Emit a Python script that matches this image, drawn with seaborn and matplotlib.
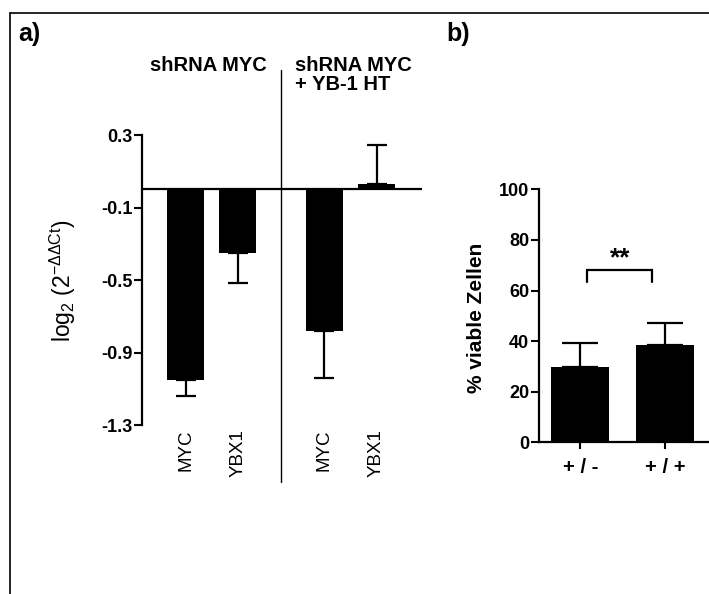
import matplotlib
matplotlib.use("Agg")
import matplotlib.pyplot as plt
from matplotlib.lines import Line2D
import seaborn as sns
import pandas as pd
import numpy as np

# ---------------- data ----------------
genes_a = ["MYC", "YBX1", "MYC", "YBX1"]
groups_a = ["shRNA MYC", "shRNA MYC", "shRNA MYC\n+ YB-1 HT", "shRNA MYC\n+ YB-1 HT"]
values_a = [-1.053, -0.348, -0.783, 0.029]
errors_a = [0.088, 0.170, 0.257, 0.216]
yticks_a = [0.3, -0.1, -0.5, -0.9, -1.3]

cats_b = ["+ / -", "+ / +"]
values_b = [29.9, 38.5]
errors_b = [9.5, 8.8]
yticks_b = [0, 20, 40, 60, 80, 100]
signif_b = "**"

# ---------------- style ----------------
sns.set_theme(style="ticks")
plt.rcParams["font.family"] = ["Liberation Sans", "DejaVu Sans"]
plt.rcParams["mathtext.fontset"] = "custom"
plt.rcParams["mathtext.rm"] = "Liberation Sans"
plt.rcParams["mathtext.it"] = "Liberation Sans:italic"
plt.rcParams["mathtext.bf"] = "Liberation Sans:bold"
for k in ["text.color", "axes.labelcolor", "xtick.color", "ytick.color", "axes.edgecolor"]:
    plt.rcParams[k] = "black"

W, H = 709, 594
fig = plt.figure(figsize=(W / 100, H / 100), dpi=100)


def fx(px):
    return px / W


def fy(py):
    return 1 - py / H


# frame lines (top and left)
fig.add_artist(Line2D([fx(10.3), 1.0], [fy(13.3), fy(13.3)], transform=fig.transFigure,
                      color="black", lw=1.2))
fig.add_artist(Line2D([fx(10.3), fx(10.3)], [fy(13.3), 0.0], transform=fig.transFigure,
                      color="black", lw=1.2))

# ---------------- panel a ----------------
ax = fig.add_axes([fx(142), fy(425.3), fx(421.7) - fx(142), fy(135) - fy(425.3)])
group_gap = 0.664
grp_idx = pd.factorize(pd.Series(groups_a))[0]
pos_a = np.arange(len(genes_a)) + group_gap * grp_idx
df_a = pd.DataFrame({"pos": pos_a, "val": values_a, "gene": genes_a})
sns.barplot(data=df_a, x="pos", y="val", native_scale=True, color="black", saturation=1,
            width=0.71, errorbar=None, linewidth=0, ax=ax)
lo = [e if v < 0 else 0 for v, e in zip(values_a, errors_a)]
hi = [e if v >= 0 else 0 for v, e in zip(values_a, errors_a)]
ax.errorbar(pos_a, values_a, yerr=[lo, hi], fmt="none", ecolor="black",
            elinewidth=1.6, capsize=7.2, capthick=1.6, zorder=3)
ax.axhline(0, color="black", lw=1.6, zorder=4)
ax.set_xlim(-0.839, 4.53)
ax.set_ylim(-1.3, 0.3)
ax.set_yticks(yticks_a, [f"{t:.1f}" for t in yticks_a], fontweight="bold", fontsize=13)
ax.set_xticks(pos_a, genes_a, rotation=90, fontsize=13.5, va="top", ha="center")
ax.tick_params(axis="x", length=0, pad=3)
ax.tick_params(axis="y", length=6, width=1.5, pad=1, colors="black")
for s in ["top", "right", "bottom"]:
    ax.spines[s].set_visible(False)
ax.spines["left"].set_linewidth(1.6)
ax.spines["left"].set_color("black")
ax.set_xlabel("")
ax.set_ylabel(r"log$_\mathregular{2}$ (2$^\mathregular{-ΔΔCt}$)", fontsize=16.5,
              rotation=90, va="center", ha="center", color="black")
ax.yaxis.set_label_coords(-0.282, 0.497)
ax.grid(False)
ax.patch.set_alpha(0)

# divider between groups
mid = (pos_a[1] + pos_a[2]) / 2
ax.axvline(mid, ymin=-0.194, ymax=1.224, color="black", lw=1.0, clip_on=False)

# group headers
ax.text(mid - 0.27, 1.219, groups_a[0], transform=ax.get_xaxis_transform(),
        ha="right", va="baseline", fontsize=14.5, fontweight="bold")
hdr2 = groups_a[2].split("\n")
ax.text(mid + 0.26, 1.219, hdr2[0], transform=ax.get_xaxis_transform(),
        ha="left", va="baseline", fontsize=14.5, fontweight="bold")
ax.text(mid + 0.26, 1.154, hdr2[1], transform=ax.get_xaxis_transform(),
        ha="left", va="baseline", fontsize=14.5, fontweight="bold")

# ---------------- panel b ----------------
bx = fig.add_axes([fx(539), fy(442.3), fx(708) - fx(539), fy(189.3) - fy(442.3)])
df_b = pd.DataFrame({"cat": cats_b, "val": values_b})
sns.barplot(data=df_b, x="cat", y="val", color="black", saturation=1, width=0.69,
            errorbar=None, linewidth=0, ax=bx)
bx.errorbar(range(len(cats_b)), values_b, yerr=[[0] * len(errors_b), errors_b], fmt="none",
            ecolor="black", elinewidth=1.6, capsize=13, capthick=1.6, zorder=3)
bx.set_xlim(-0.489, 1.511)
bx.set_ylim(0, 100)
bx.set_yticks(yticks_b, [str(t) for t in yticks_b], fontweight="bold", fontsize=13)
bx.set_xticks(range(len(cats_b)), cats_b, fontweight="bold", fontsize=14.5)
bx.tick_params(axis="y", length=6, width=1.5, pad=1, colors="black")
bx.tick_params(axis="x", length=5, width=1.5, pad=6, colors="black")
for s in ["top", "right"]:
    bx.spines[s].set_visible(False)
for s in ["left", "bottom"]:
    bx.spines[s].set_linewidth(1.6)
    bx.spines[s].set_color("black")
bx.set_xlabel("")
bx.set_ylabel("% viable Zellen", fontsize=15, fontweight="bold", rotation=90,
              va="center", ha="center", color="black")
bx.yaxis.set_label_coords(-0.369, 0.493)
bx.grid(False)
bx.patch.set_alpha(0)

# significance bracket
bx.plot([0.08, 0.08, 0.85, 0.85], [63.5, 68.3, 68.3, 63.5], color="black", lw=1.6,
        solid_joinstyle="miter")
bx.text(0.47, 68.0, signif_b, ha="center", va="bottom", fontsize=19, fontweight="bold")

# panel letters
fig.text(fx(18), fy(41), "a)", ha="left", va="baseline", fontsize=18, fontweight="bold")
fig.text(fx(446), fy(41), "b)", ha="left", va="baseline", fontsize=18, fontweight="bold")

fig.savefig("out.png", dpi=100, facecolor="white")
